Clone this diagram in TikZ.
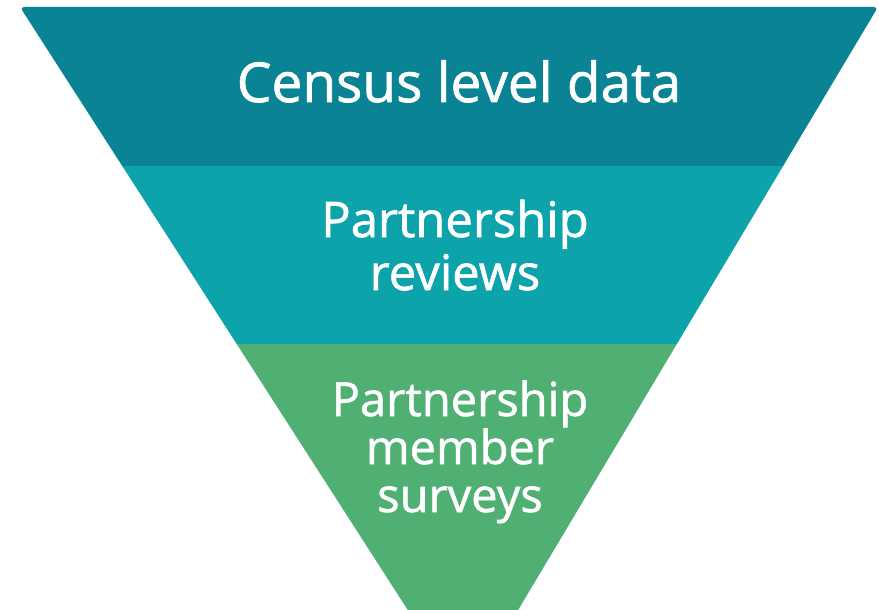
\documentclass[tikz,border=0pt]{standalone}
\usepackage{fontspec}
\setmainfont{Open Sans}
\newfontfamily\lvlfont{Open Sans}[BoldFont=Open Sans, BoldFeatures={FakeBold=1.2}]
\usetikzlibrary{calc}

\definecolor{censusteal}{RGB}{10,132,148}
\definecolor{reviewteal}{RGB}{13,163,171}
\definecolor{surveygreen}{RGB}{80,175,115}

\begin{document}
\begin{tikzpicture}[
	x=1pt, y=-1pt,
	band/.style={draw=none},
	lvltext/.style={text=white, align=center, inner sep=0pt, anchor=base},
	]

	\useasboundingbox (0,0) rectangle (879,610);
	\clip (0,0) rectangle (879,610);

	% outline of the funnel
	\coordinate (TL) at (20,7);
	\coordinate (TR) at (878,7);
	\coordinate (tip) at (465,699);

	\coordinate (L1) at ($(TL)!0.2298!(tip)$);
	\coordinate (R1) at ($(TR)!0.2298!(tip)$);
	\coordinate (L2) at ($(TL)!0.487!(tip)$);
	\coordinate (R2) at ($(TR)!0.487!(tip)$);

	\fill[band, fill=censusteal] (L1) [rounded corners=4pt] -- (TL) -- (TR) [sharp corners] -- (R1) -- cycle;
	\fill[band, fill=reviewteal] (L2) -- (L1) -- (R1) -- (R2) -- cycle;
	\fill[band, fill=surveygreen] (tip) -- (L2) -- (R2) -- cycle;

	% base anchor sits on the last line
	\node[lvltext, font=\lvlfont\bfseries\fontsize{55}{60}\selectfont] (census) at (459,102) {Census level data};
	\node[lvltext, font=\lvlfont\bfseries\fontsize{49}{53}\selectfont] (reviews) at (455,290) {Partnership\\reviews};
	\node[lvltext, font=\lvlfont\bfseries\fontsize{47}{48}\selectfont] (surveys) at (460,512) {Partnership\\member\\surveys};

\end{tikzpicture}
\end{document}
